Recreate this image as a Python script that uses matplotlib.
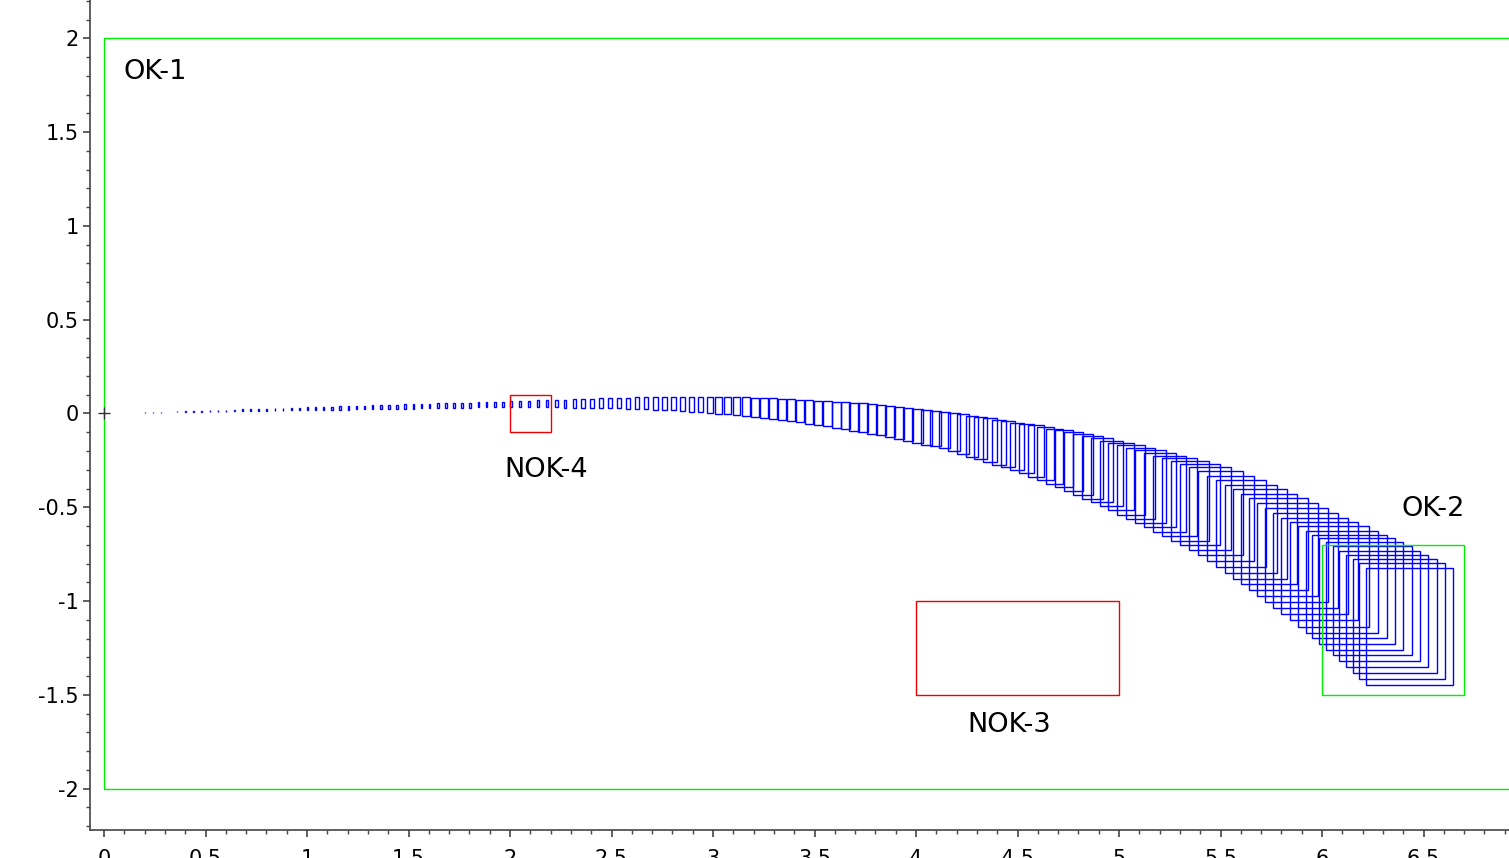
import matplotlib
matplotlib.use("Agg")
import matplotlib.pyplot as plt
from matplotlib.patches import Rectangle
from matplotlib.ticker import MultipleLocator

# Safe / unsafe regions: lower-left corner, upper-right corner
ok_names = ["OK-1", "OK-2"]
ok_x0 = [0.0, 6.0]
ok_x1 = [7.5, 6.7]
ok_y0 = [-2.0, -1.5]
ok_y1 = [2.0, -0.7]
ok_label_x = [0.25, 6.55]
ok_label_y = [1.82, -0.51]

nok_names = ["NOK-3", "NOK-4"]
nok_x0 = [4.0, 2.0]
nok_x1 = [5.0, 2.2]
nok_y0 = [-1.5, -0.1]
nok_y1 = [-1.0, 0.1]
nok_label_x = [4.46, 2.18]
nok_label_y = [-1.66, -0.30]

# Reach boxes: left edge, width, centre y, height
box_x = [
    0.20, 0.24, 0.28, 0.32, 0.36, 0.40, 0.44, 0.48, 0.52, 0.56,
    0.60, 0.64, 0.68, 0.72, 0.76, 0.80, 0.84, 0.88, 0.92, 0.96,
    1.00, 1.04, 1.08, 1.12, 1.16, 1.20, 1.24, 1.28, 1.32, 1.36,
    1.40, 1.44, 1.48, 1.52, 1.56, 1.60, 1.64, 1.68, 1.72, 1.76,
    1.80, 1.84, 1.88, 1.92, 1.96,
    2.000, 2.044, 2.088, 2.132, 2.176, 2.220, 2.264, 2.308, 2.352, 2.396,
    2.440, 2.484, 2.528, 2.572, 2.616, 2.660, 2.704, 2.748, 2.792, 2.836,
    2.880, 2.924, 2.968, 3.012, 3.056, 3.100, 3.144, 3.188, 3.232, 3.276,
    3.320, 3.364, 3.408, 3.452, 3.496, 3.540, 3.584, 3.628, 3.672, 3.716,
    3.760, 3.804, 3.848, 3.892, 3.936, 3.980, 4.024, 4.068, 4.112, 4.156,
    4.200, 4.244, 4.288, 4.332, 4.376, 4.420, 4.464, 4.508, 4.552, 4.596,
    4.640, 4.684, 4.728, 4.772, 4.816, 4.860, 4.904, 4.948, 4.992, 5.036,
    5.080, 5.124, 5.168, 5.212, 5.256, 5.300, 5.344, 5.388, 5.432, 5.476,
    5.520, 5.560, 5.600, 5.640, 5.680, 5.720, 5.760, 5.800, 5.840, 5.880,
    5.920, 5.953, 5.986, 6.019, 6.052, 6.085, 6.118, 6.151, 6.184, 6.217,
]
box_w = [
    .001, .001, .001, .002, .002, .002, .002, .002, .003, .003,
    .003, .003, .003, .004, .004, .004, .004, .004, .005, .005,
    .005, .005, .005, .006, .006, .006, .006, .006, .007, .007,
    .007, .007, .007, .008, .008, .008, .008, .008, .009, .009,
    .009, .009, .009, .010, .010,
    .010, .011, .011, .012, .013, .014, .014, .015, .016, .017,
    .017, .018, .019, .020, .020, .022, .023, .024, .025, .027,
    .028, .029, .031, .032, .033, .034, .036, .037, .038, .039,
    .040, .041, .042, .042, .043, .044, .045, .045, .046, .047,
    .047, .048, .049, .050, .051, .052, .054, .055, .057, .059,
    .060, .062, .064, .065, .067, .068, .070, .074, .078, .082,
    .086, .090, .094, .098, .103, .111, .118, .126, .134, .141,
    .149, .157, .164, .173, .186, .198, .210, .223, .235, .247,
    .258, .268, .278, .289, .299, .309, .319, .330, .339, .349,
    .358, .366, .374, .382, .390, .398, .406, .414, .421, .429,
]
box_yc = [
    .005, .006, .007, .008, .009, .010, .011, .012, .013, .014,
    .015, .016, .017, .018, .019, .020, .021, .022, .023, .024,
    .025, .026, .027, .028, .029, .030, .031, .032, .033, .034,
    .035, .036, .037, .038, .039, .040, .041, .042, .043, .044,
    .045, .046, .047, .048, .049,
    .050, .050, .051, .052, .052, .053, .053, .054, .054, .054,
    .055, .055, .055, .055, .055, .055, .054, .054, .053, .052,
    .050, .048, .046, .044, .042, .039, .036, .033, .030, .026,
    .022, .018, .014, .009, .004, -.001, -.006, -.012, -.017, -.023,
    -.030, -.036, -.043, -.050, -.057, -.065, -.073, -.081, -.089, -.098,
    -.111, -.121, -.132, -.142, -.153, -.164, -.175, -.186, -.200, -.214,
    -.228, -.242, -.257, -.272, -.288, -.303, -.320, -.336, -.354, -.372,
    -.390, -.408, -.427, -.446, -.466, -.486, -.506, -.532, -.559, -.587,
    -.616, -.641, -.668, -.696, -.724, -.752, -.782, -.812, -.839, -.868,
    -.897, -.922, -.946, -.972, -.998, -1.025, -1.052, -1.078, -1.106, -1.134,
]
box_h = [
    .003, .004, .004, .005, .005, .006, .007, .007, .008, .008,
    .009, .010, .010, .011, .011, .012, .013, .013, .014, .014,
    .015, .016, .016, .017, .017, .018, .019, .019, .020, .020,
    .021, .022, .022, .023, .023, .024, .025, .025, .026, .026,
    .027, .028, .028, .029, .029,
    .030, .032, .034, .037, .039, .041, .043, .045, .048, .050,
    .052, .054, .056, .059, .061, .064, .067, .071, .074, .077,
    .080, .083, .086, .089, .093, .096, .099, .102, .105, .108,
    .112, .117, .121, .126, .130, .135, .139, .144, .148, .153,
    .158, .162, .167, .171, .176, .180, .185, .189, .194, .199,
    .213, .220, .226, .233, .239, .246, .253, .263, .274, .284,
    .295, .304, .313, .323, .332, .342, .351, .360, .370, .379,
    .389, .397, .405, .414, .422, .431, .439, .447, .456, .465,
    .472, .478, .483, .489, .495, .501, .506, .513, .524, .535,
    .546, .554, .563, .572, .580, .589, .598, .607, .615, .624,
]

fig = plt.figure(figsize=(15.09, 8.58), dpi=100)
ax = fig.add_axes([90 / 1509, 28 / 858, 1 - 90 / 1509, 1 - 28 / 858])

# blue reach boxes
for x, w, yc, h in zip(box_x, box_w, box_yc, box_h):
    ax.add_patch(Rectangle((x, yc - h / 2), w, h, fill=False,
                           edgecolor="#0000ff", linewidth=1.0))

# safe regions in green, unsafe in red
for name, x0, x1, y0, y1, lx, ly in zip(ok_names, ok_x0, ok_x1, ok_y0, ok_y1,
                                         ok_label_x, ok_label_y):
    ax.add_patch(Rectangle((x0, y0), x1 - x0, y1 - y0, fill=False,
                           edgecolor="#00ee00", linewidth=1.0))
    ax.text(lx, ly, name, fontsize=19.5, ha="center", va="center")

for name, x0, x1, y0, y1, lx, ly in zip(nok_names, nok_x0, nok_x1, nok_y0, nok_y1,
                                         nok_label_x, nok_label_y):
    ax.add_patch(Rectangle((x0, y0), x1 - x0, y1 - y0, fill=False,
                           edgecolor="#ee0000", linewidth=1.0))
    ax.text(lx, ly, name, fontsize=19.5, ha="center", va="center")

# initial point
ax.plot([0], [0], marker="+", color="#333333", markersize=8, markeredgewidth=1)

ax.set_xlim(-0.069, 6.921)
ax.set_ylim(-2.22, 2.204)

ax.xaxis.set_major_locator(MultipleLocator(0.5))
ax.xaxis.set_minor_locator(MultipleLocator(0.1))
ax.yaxis.set_major_locator(MultipleLocator(0.5))
ax.yaxis.set_minor_locator(MultipleLocator(0.1))
ax.xaxis.set_major_formatter(plt.FuncFormatter(lambda v, p: f"{v:g}"))
ax.yaxis.set_major_formatter(plt.FuncFormatter(lambda v, p: f"{v:g}"))

for side in ["top", "right"]:
    ax.spines[side].set_visible(False)
for side in ["left", "bottom"]:
    ax.spines[side].set_color("#444444")
    ax.spines[side].set_linewidth(1.2)

ax.tick_params(which="major", direction="out", length=5, width=1.2,
               color="#444444", labelsize=15)
ax.tick_params(axis="y", which="major", pad=3)
ax.tick_params(axis="x", which="major", pad=9)
ax.tick_params(which="minor", direction="out", length=3, width=1.0,
               color="#444444")

fig.savefig("out.png", dpi=100)
plt.close(fig)
